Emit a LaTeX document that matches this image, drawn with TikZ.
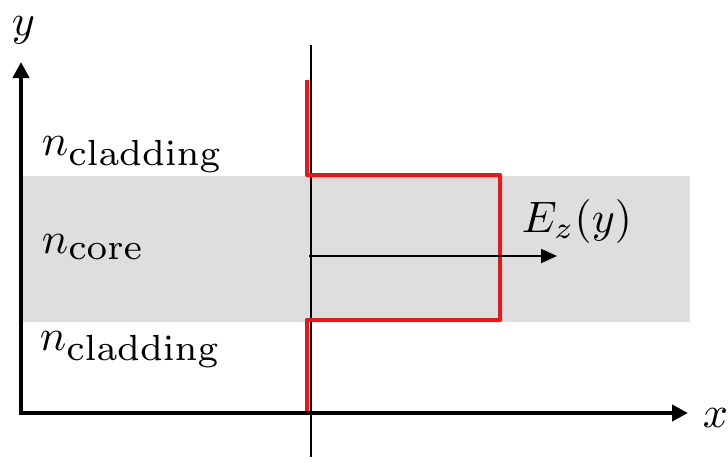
\documentclass[tikz,border=0pt]{standalone}
\usetikzlibrary{arrows.meta}
\tikzset{
  axis/.style={line width=4pt, -{Triangle[length=16pt,width=16pt]}},
  thin axis/.style={line width=2pt},
  profile/.style={draw={rgb,255:red,240;green,20;blue,20}, line width=4.5pt, line join=round},
  field/.style={line width=1.8pt, -{Triangle[length=16pt,width=14pt]}},
  lbl/.style={scale=4.4, inner sep=0pt, anchor=base west},
}
\newcommand{\subtxt}[1]{\scalebox{1.18}{$\scriptstyle\mathrm{#1}$}}
\definecolor{core}{RGB}{222,222,222}
\begin{document}
\begin{tikzpicture}[x=1pt,y=-1pt]
\useasboundingbox (0,0) rectangle (728,463);
\fill[white] (0,0) rectangle (728,463);
\fill[core] (22,176) rectangle (690,322);
% thin vertical line
\coordinate (vt) at (311,45);
\coordinate (vb) at (311,457);
\draw[thin axis] (vt) -- (vb);
% red profile
\coordinate (p0) at (307,80);
\coordinate (p1) at (307,175);
\coordinate (p2) at (500,175);
\coordinate (p3) at (500,320);
\coordinate (p4) at (307,320);
\coordinate (p5) at (307,413);
\draw[profile] (p0) -- (p1) -- (p2) -- (p3) -- (p4) -- (p5);
% axes
\coordinate (o) at (21,413);
\coordinate (ytip) at (21,62);
\coordinate (xtip) at (688,413);
\draw[axis] ([yshift=2pt]o) -- (ytip);
\draw[axis] ([xshift=-2pt]o) -- (xtip);
% field arrow
\coordinate (fs) at (309,256);
\coordinate (fe) at (557,256);
\draw[field] (fs) -- (fe);
% labels
\node[lbl] (ylab) at (11,35) {$y$};
\node[lbl] (xlab) at (702,427) {$x$};
\node[lbl] (nc1) at (41,155) {$n_{\subtxt{cladding}}$};
\node[lbl] (nco) at (41,253) {$n_{\subtxt{core}}$};
\node[lbl] (nc2) at (39,350) {$n_{\subtxt{cladding}}$};
\node[lbl] (ez) at (521,232) {$E_z(y)$};
\end{tikzpicture}
\end{document}
